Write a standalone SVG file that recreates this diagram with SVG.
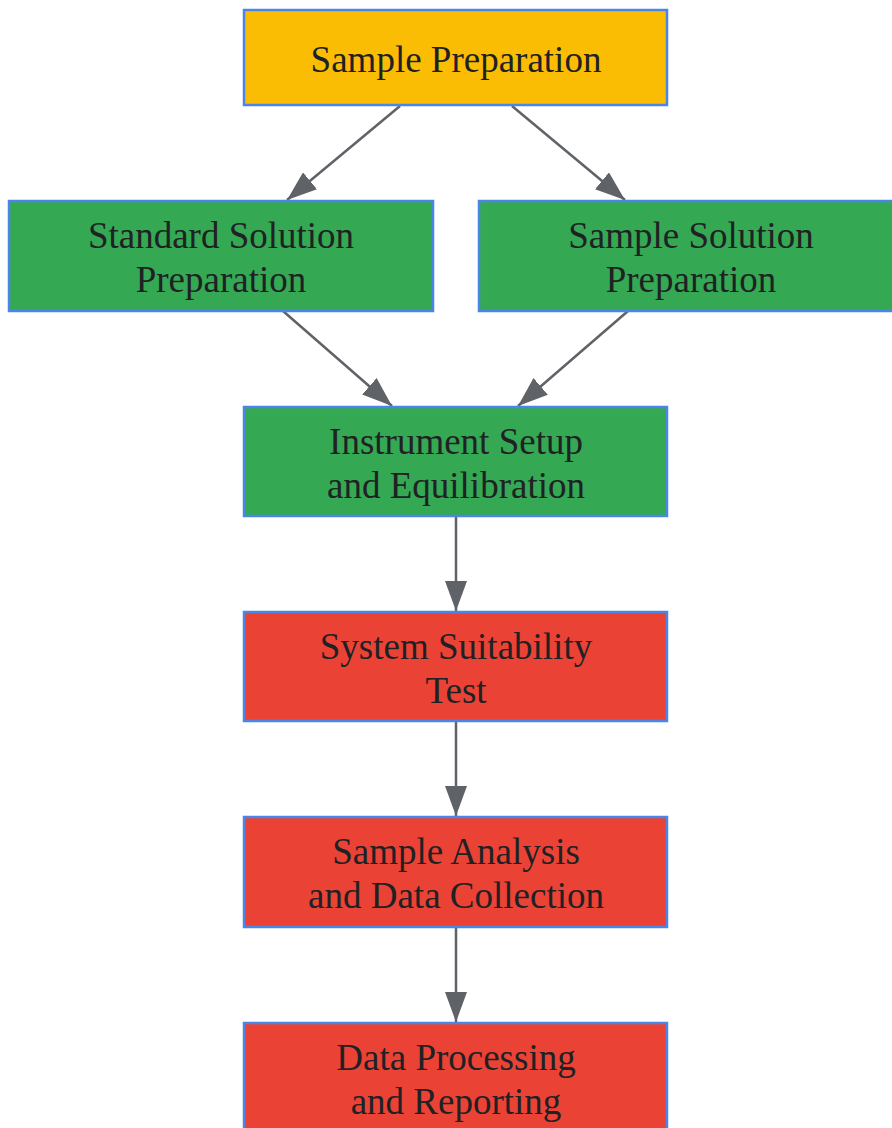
<svg xmlns="http://www.w3.org/2000/svg" width="892" height="1128" viewBox="0 0 892 1128">
<defs>
<style>
.box{stroke:#4a86e8;stroke-width:2.5}
.y{fill:#fbbc04}
.g{fill:#34a853}
.r{fill:#ea4335}
text{font-family:"Liberation Serif","Times New Roman",serif;font-size:37px;fill:#202124;text-anchor:middle}
.edge{stroke:#5f6368;stroke-width:2.5;fill:none;marker-end:url(#ah)}
</style>
<marker id="ah" viewBox="0 0 30 22" refX="30" refY="11" markerWidth="30" markerHeight="22" markerUnits="userSpaceOnUse" orient="auto">
<path d="M0,0 L30,11 L0,22 Z" fill="#5f6368"/>
</marker>
</defs>
<rect width="892" height="1128" fill="#ffffff"/>
<g id="edges">
<line class="edge" x1="400" y1="106" x2="287" y2="200"/>
<line class="edge" x1="512" y1="106" x2="625" y2="200"/>
<line class="edge" x1="283" y1="311" x2="392" y2="406"/>
<line class="edge" x1="628" y1="311" x2="518" y2="406"/>
<line class="edge" x1="456" y1="517" x2="456" y2="611"/>
<line class="edge" x1="456" y1="722" x2="456" y2="816"/>
<line class="edge" x1="456" y1="928" x2="456" y2="1022"/>
</g>
<g id="sample-prep">
<rect class="box y" x="244" y="10" width="423" height="95"/>
<text x="456" y="72">Sample Preparation</text>
</g>
<g id="standard-solution">
<rect class="box g" x="9" y="201" width="424" height="110"/>
<text x="221" y="248">Standard Solution</text>
<text x="221" y="292">Preparation</text>
</g>
<g id="sample-solution">
<rect class="box g" x="479" y="201" width="424" height="110"/>
<text x="691" y="248">Sample Solution</text>
<text x="691" y="292">Preparation</text>
</g>
<g id="instrument-setup">
<rect class="box g" x="244" y="407" width="423" height="109"/>
<text x="456" y="454">Instrument Setup</text>
<text x="456" y="498">and Equilibration</text>
</g>
<g id="system-suitability">
<rect class="box r" x="244" y="612" width="423" height="109"/>
<text x="456" y="659">System Suitability</text>
<text x="456" y="703">Test</text>
</g>
<g id="sample-analysis">
<rect class="box r" x="244" y="817" width="423" height="110"/>
<text x="456" y="864">Sample Analysis</text>
<text x="456" y="908">and Data Collection</text>
</g>
<g id="data-processing">
<rect class="box r" x="244" y="1023" width="423" height="110"/>
<text x="456" y="1070">Data Processing</text>
<text x="456" y="1114">and Reporting</text>
</g>
</svg>
